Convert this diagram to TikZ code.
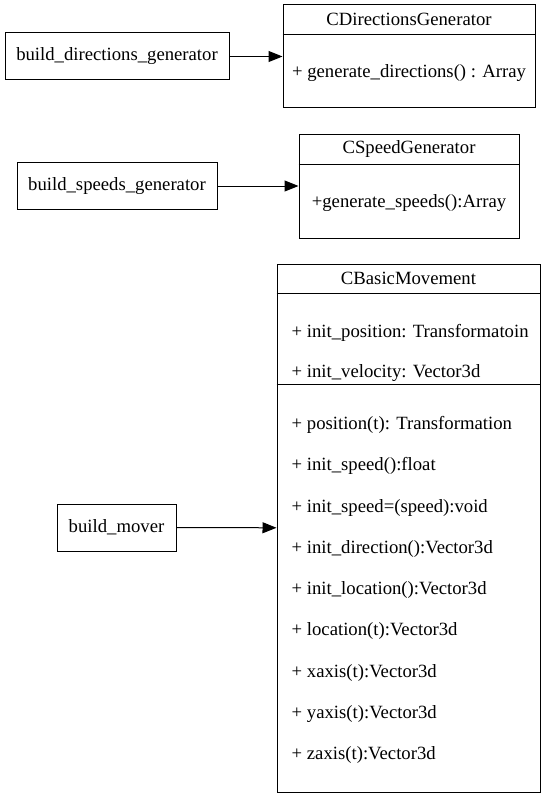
\documentclass[tikz,border=0pt]{standalone}
\usepackage{fontspec}
\setmainfont{Liberation Serif}
\usetikzlibrary{arrows.meta,calc}

\tikzset{
  every node/.style={font=\fontsize{18.7pt}{22pt}\selectfont},
  funcbox/.style={draw, rectangle, line width=1pt, minimum height=47pt, inner sep=0pt},
  classbox/.style={draw, rectangle, line width=1pt, inner sep=0pt},
  classtitle/.style={anchor=north, minimum height=30pt, inner sep=0pt},
  member/.style={anchor=west, inner sep=0pt},
  sepline/.style={line width=1pt},
  uses/.style={-{Triangle[length=14pt,width=11pt]}, line width=1pt}
}

\begin{document}
\begin{tikzpicture}[x=1pt, y=-1pt]
  \useasboundingbox (0,0) rectangle (547,797);

  \node[funcbox, minimum width=224pt] (builddir) at (117,56.5) {build\_directions\_generator};
  \node[funcbox, minimum width=200pt] (buildspeed) at (117,186) {build\_speeds\_generator};
  \node[funcbox, minimum width=119pt] (buildmover) at (116.5,527.5) {build\_mover};

  \node[classbox, minimum width=252pt, minimum height=103pt] (dirgen) at (409,56.5) {};
  \node[classtitle] (dirgentitle) at (dirgen.north) {CDirectionsGenerator};
  \draw[sepline] (dirgen.west |- dirgentitle.south) -- (dirgen.east |- dirgentitle.south);
  \node (dirgenop) at ($(dirgentitle.south)!0.5!(dirgen.south)+(0,1.5)$) {+ generate\_directions() : Array};

  \node[classbox, minimum width=220pt, minimum height=104pt] (speedgen) at (409,186) {};
  \node[classtitle, minimum height=31pt] (speedgentitle) at (speedgen.north) {CSpeedGenerator};
  \draw[sepline] (speedgen.west |- speedgentitle.south) -- (speedgen.east |- speedgentitle.south);
  \node (speedgenop) at ($(speedgentitle.south)!0.5!(speedgen.south)+(0,1)$) {+generate\_speeds():Array};

  \node[classbox, minimum width=263pt, minimum height=528pt] (basic) at (408.5,528) {};
  \node[classtitle] (basictitle) at (basic.north) {CBasicMovement};
  \coordinate (basicattr) at (basic.west |- basictitle.south);
  \coordinate (basicsep) at ($(basicattr)+(0,91)$);
  \draw[sepline] (basicattr) -- (basicattr -| basic.east);
  \draw[sepline] (basicsep) -- (basicsep -| basic.east);
  \foreach \txt [count=\i from 0] in {{+ init\_position: Transformatoin},{+ init\_velocity: Vector3d}}
    \node[member] (attr\i) at ($(basicattr)+(15,39+40*\i)$) {\txt};
  \foreach \txt [count=\i from 0] in {{+ position(t): Transformation},{+ init\_speed():float},
      {+ init\_speed=(speed):void},{+ init\_direction():Vector3d},{+ init\_location():Vector3d},
      {+ location(t):Vector3d},{+ xaxis(t):Vector3d},{+ yaxis(t):Vector3d},{+ zaxis(t):Vector3d}}
    \node[member] (meth\i) at ($(basicsep)+(15,40+41.3*\i)$) {\txt};

  \draw[uses] (builddir) -- (dirgen);
  \draw[uses] (buildspeed) -- (speedgen);
  \draw[uses] (buildmover) -- (basic);
\end{tikzpicture}
\end{document}
